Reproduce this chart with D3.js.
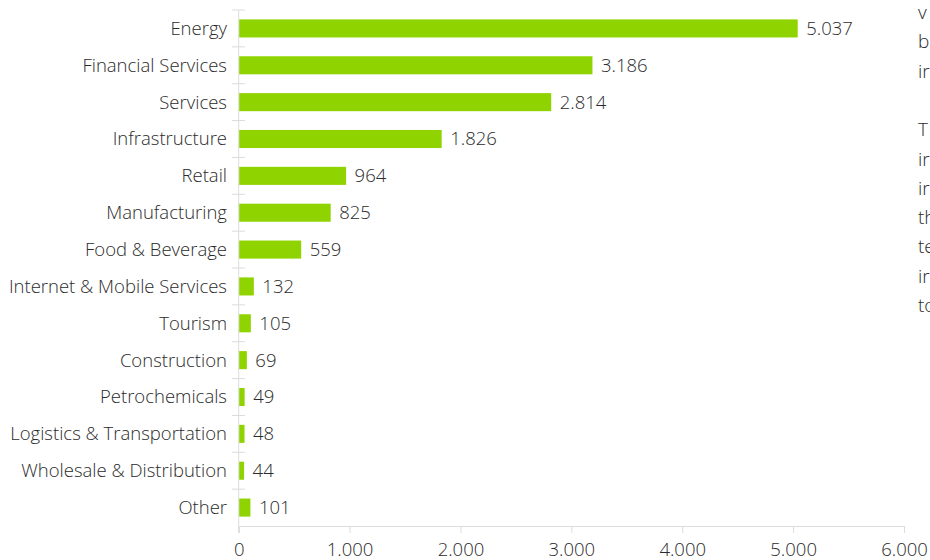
<!DOCTYPE html>
<html><head><meta charset="utf-8">
<script src="https://cdn.jsdelivr.net/npm/d3@7"></script>
<style>
html,body{margin:0;padding:0;background:#fff;overflow:hidden;}
svg{display:block;font-family:"Open Sans",sans-serif;font-weight:300;}
</style></head>
<body>
<svg id="c" width="930" height="560"></svg>
<script>
const categories = ["Energy","Financial Services","Services","Infrastructure","Retail","Manufacturing","Food & Beverage","Internet & Mobile Services","Tourism","Construction","Petrochemicals","Logistics & Transportation","Wholesale & Distribution","Other"];
const values = [5037,3186,2814,1826,964,825,559,132,105,69,49,48,44,101];
const xTicks = [0,1000,2000,3000,4000,5000,6000];
const sideText = ["v","b","ir","","T","ir","ir","th","te","ir","to"];

const svg = d3.select("#c");
const x0 = 238.7, x1 = 904;
const x = d3.scaleLinear().domain([0,6000]).range([x0,x1]);
const y = d3.scaleBand().domain(categories).range([10,526]).paddingInner(0.51).paddingOuter(0.255);
const fmt = v => d3.format(",")(v).replace(/,/g,".");
const gridC = "#dcdcdc", textC = "#2b2b2b";
const fs = "18.5px";

// y-axis line
svg.append("line").attr("x1",x0).attr("x2",x0).attr("y1",10).attr("y2",533).attr("stroke",gridC).attr("stroke-width",1);
// y ticks at band boundaries
const step = y.step();
d3.range(categories.length).forEach(i=>{
  const yy = 10 + i*step;
  svg.append("line").attr("x1",232).attr("x2",245).attr("y1",yy).attr("y2",yy).attr("stroke",gridC);
});
// x axis
const xa = svg.append("g").attr("transform","translate(0,526)")
  .call(d3.axisBottom(x).tickValues(xTicks).tickFormat(fmt).tickSize(7).tickPadding(10));
xa.select(".domain").attr("stroke",gridC);
xa.selectAll(".tick line").attr("stroke",gridC);
xa.selectAll(".tick text").attr("fill",textC).style("font-size",fs).style("font-family","'Open Sans',sans-serif").style("font-weight",300);

// bars
svg.selectAll("rect.bar").data(categories).enter().append("rect")
  .attr("x",x(0)+0.5).attr("y",d=>y(d))
  .attr("width",(d,i)=>x(values[i])-x(0)).attr("height",y.bandwidth())
  .attr("fill","#8fd400");
// value labels
svg.selectAll("text.val").data(categories).enter().append("text")
  .attr("x",(d,i)=>x(values[i])+9).attr("y",d=>y(d)+y.bandwidth()/2)
  .attr("dy","0.35em").attr("fill",textC).style("font-size",fs)
  .text((d,i)=>fmt(values[i]));
// category labels
svg.selectAll("text.cat").data(categories).enter().append("text")
  .attr("x",227).attr("y",d=>y(d)+y.bandwidth()/2)
  .attr("dy","0.35em").attr("text-anchor","end").attr("fill",textC).style("font-size",fs)
  .text(d=>d);
// cropped side paragraph
sideText.forEach((t,i)=>{
  svg.append("text").attr("x",918).attr("y",19+i*29.3).attr("fill",textC).style("font-size","19px").text(t);
});
</script>
</body></html>
